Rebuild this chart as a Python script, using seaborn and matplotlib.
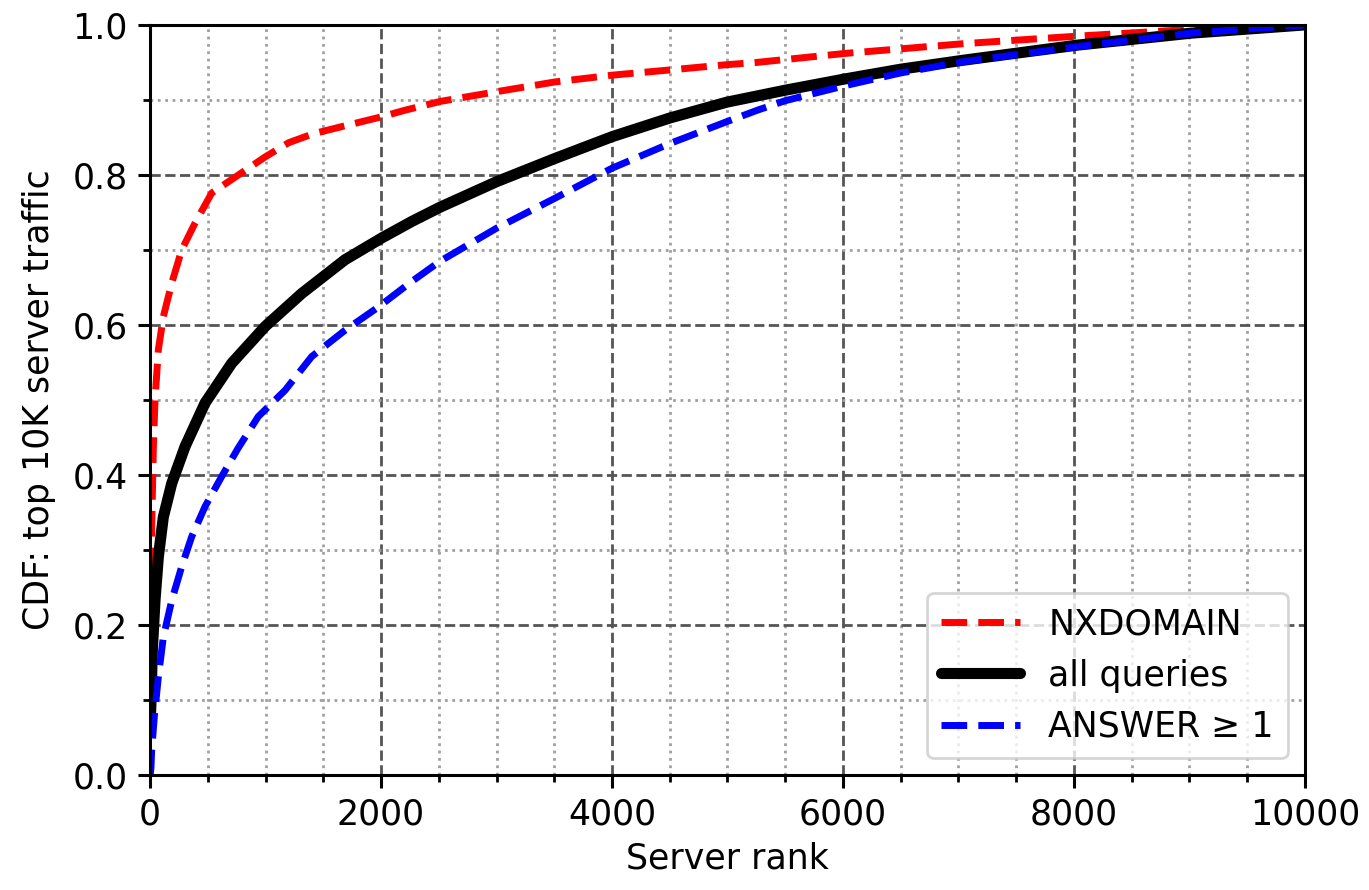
import numpy as np
import pandas as pd
import matplotlib
matplotlib.use("Agg")
import matplotlib.pyplot as plt
from matplotlib.ticker import MultipleLocator
import seaborn as sns


# ---------------------------------------------------
# Data

nx_rank = [1, 10, 29, 43, 72, 115, 188, 274, 390, 534, 765, 996, 1200,
           1414, 1700, 1991, 2200, 2511, 3000, 3506, 4000, 4502, 4993,
           5253, 6017, 7044, 8026, 9013, 10000]
nx_cdf = [0.22, 0.30, 0.438, 0.50, 0.567, 0.611, 0.656, 0.70, 0.736, 0.776,
          0.80, 0.824, 0.843, 0.855, 0.866, 0.877, 0.886, 0.898, 0.911,
          0.924, 0.933, 0.94, 0.947, 0.95, 0.962, 0.975, 0.985, 0.994, 1.0]

all_rank = [1, 9, 20, 43, 72, 115, 188, 303, 476, 707, 996, 1313, 1688,
            2006, 2266, 2511, 3000, 3506, 4000, 4502, 4993, 5500, 6017,
            6500, 7044, 8026, 9013, 10000]
all_cdf = [0.07, 0.10, 0.167, 0.233, 0.291, 0.344, 0.389, 0.438, 0.496,
           0.549, 0.598, 0.642, 0.687, 0.716, 0.738, 0.757, 0.791, 0.822,
           0.851, 0.876, 0.897, 0.913, 0.928, 0.941, 0.953, 0.973, 0.989,
           1.0]

ans_rank = [1, 8, 14, 37, 72, 115, 188, 274, 361, 476, 620, 763, 937, 1169,
            1400, 1688, 1977, 2266, 2511, 3000, 3506, 4000, 4502, 4993,
            5253, 5500, 6017, 6500, 7044, 8026, 9013, 10000]
ans_cdf = [0.0, 0.01, 0.033, 0.078, 0.131, 0.184, 0.233, 0.278, 0.318,
           0.358, 0.398, 0.436, 0.478, 0.513, 0.558, 0.593, 0.624, 0.658,
           0.685, 0.729, 0.769, 0.809, 0.842, 0.871, 0.886, 0.899, 0.919,
           0.936, 0.951, 0.971, 0.989, 1.0]


# ---------------------------------------------------
# Plot

sns.set_style("ticks")
plt.rcParams["font.family"] = ["DejaVu Sans"]
plt.rcParams["font.size"] = 12.5
plt.rcParams["text.color"] = "black"
plt.rcParams["axes.labelcolor"] = "black"
plt.rcParams["xtick.color"] = "black"
plt.rcParams["ytick.color"] = "black"

fig = plt.figure(figsize=(6.845, 4.45), dpi=200)
ax = fig.add_axes([0.1096, 0.129, 0.8436, 0.843])

sns.lineplot(x=nx_rank, y=nx_cdf, ax=ax, color="red",
             linestyle="--", linewidth=2.5, label="NXDOMAIN")
sns.lineplot(x=all_rank, y=all_cdf, ax=ax, color="black",
             linewidth=4, label="all queries")
sns.lineplot(x=ans_rank, y=ans_cdf, ax=ax, color="blue",
             linestyle="--", linewidth=2.5, label="ANSWER \u2265 1")

ax.set_xlim(0, 10000)
ax.set_ylim(0, 1)

ax.xaxis.set_major_locator(MultipleLocator(2000))
ax.xaxis.set_minor_locator(MultipleLocator(500))
ax.yaxis.set_major_locator(MultipleLocator(0.2))
ax.yaxis.set_minor_locator(MultipleLocator(0.1))

ax.grid(which="major", linestyle="--", color="#555555", linewidth=1.0)
ax.grid(which="minor", linestyle=":", color="#a0a0a0", linewidth=1.0)
ax.set_axisbelow(True)

ax.tick_params(which="major", length=4.5, width=1.1, labelsize=12.5,
               color="black", labelcolor="black")
ax.tick_params(which="minor", length=2.5, width=1.0, color="black")
for s in ax.spines.values():
    s.set_linewidth(1.1)
    s.set_color("black")

ax.set_xlabel("Server rank", fontsize=12.5, labelpad=3.5)
ax.set_ylabel("CDF: top 10K server traffic", fontsize=12.5, labelpad=6)

ax.legend(loc="lower right", fontsize=12.5, handlelength=2.3,
          framealpha=0.8)

plt.savefig("out.png", dpi=200)
plt.close()
